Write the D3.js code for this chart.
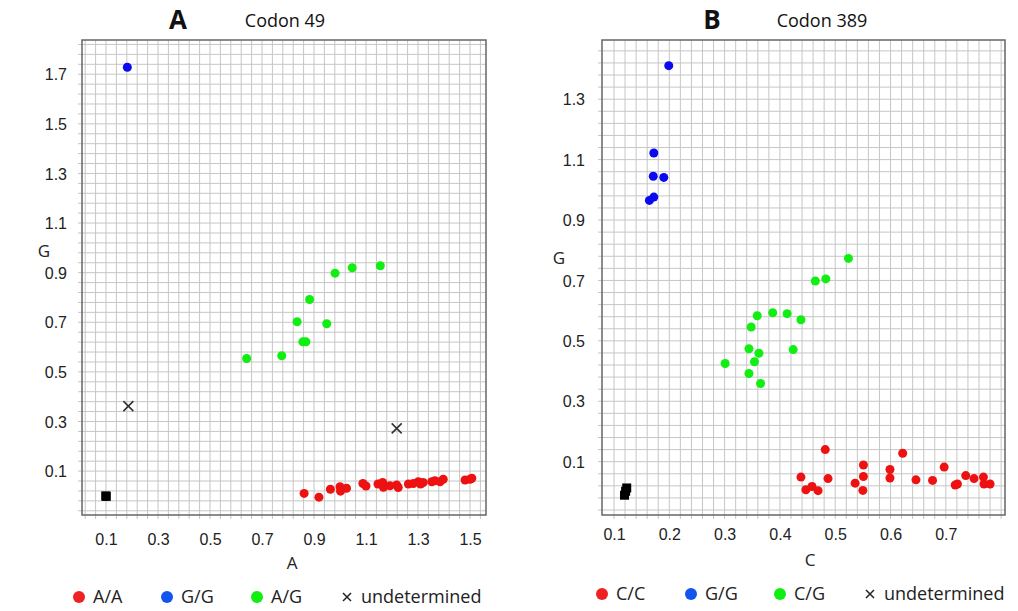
<!DOCTYPE html>
<html>
<head>
<meta charset="utf-8">
<script src="https://cdn.jsdelivr.net/npm/d3@7"></script>
<style>
  body { margin: 0; background: #fff; }
  svg { display: block; font-family: "Open Sans", "Noto Sans", sans-serif; }
  .tick text { fill: #222; }
</style>
</head>
<body>
<svg id="chart"></svg>
<script>
const width = 1018;
const height = 611;

// Codon 49 : x = A, y = G
const aAA = [
  [0.862, 0.010], [0.919, -0.005], [0.963, 0.027], [1.000, 0.037], [1.002, 0.019],
  [1.025, 0.031], [1.088, 0.050], [1.100, 0.040], [1.146, 0.048], [1.164, 0.054],
  [1.167, 0.035], [1.192, 0.041], [1.218, 0.044], [1.224, 0.034], [1.263, 0.048],
  [1.282, 0.050], [1.301, 0.057], [1.310, 0.048], [1.320, 0.054], [1.353, 0.057],
  [1.365, 0.061], [1.385, 0.057], [1.397, 0.067], [1.481, 0.064], [1.500, 0.067],
  [1.507, 0.071]
];
const aGG = [[0.182, 1.728]];
const aAG = [
  [0.641, 0.554], [0.776, 0.565], [0.857, 0.621], [0.869, 0.621], [0.835, 0.702],
  [0.949, 0.694], [0.883, 0.792], [0.981, 0.898], [1.047, 0.920], [1.155, 0.928]
];
const aUnd = [[0.186, 0.362], [1.218, 0.272]];
const aNtc = [[0.099, 0.000], [0.101, -0.002]];

// Codon 389 : x = C, y = G
const bCC = [
  [0.438, 0.049], [0.482, 0.140], [0.487, 0.044], [0.447, 0.007], [0.458, 0.018],
  [0.469, 0.004], [0.536, 0.029], [0.551, 0.089], [0.551, 0.051], [0.550, 0.005],
  [0.599, 0.074], [0.599, 0.046], [0.622, 0.128], [0.646, 0.040], [0.676, 0.038],
  [0.697, 0.082], [0.717, 0.023], [0.721, 0.026], [0.736, 0.054], [0.751, 0.044],
  [0.768, 0.049], [0.769, 0.026], [0.780, 0.026]
];
const bGG = [
  [0.199, 1.411], [0.172, 1.122], [0.171, 1.045], [0.190, 1.041], [0.172, 0.976],
  [0.164, 0.965]
];
const bCG = [
  [0.524, 0.773], [0.464, 0.698], [0.483, 0.705], [0.387, 0.593], [0.413, 0.590],
  [0.438, 0.570], [0.359, 0.583], [0.348, 0.546], [0.344, 0.474], [0.362, 0.459],
  [0.424, 0.471], [0.354, 0.431], [0.301, 0.425], [0.344, 0.392], [0.365, 0.359]
];
const bUnd = [];
const bNtc = [[0.123, 0.013], [0.119, -0.011], [0.121, 0.002]];

const aTicksX = [0.1, 0.3, 0.5, 0.7, 0.9, 1.1, 1.3, 1.5];
const aTicksY = [0.1, 0.3, 0.5, 0.7, 0.9, 1.1, 1.3, 1.5, 1.7];
const bTicksX = [0.1, 0.2, 0.3, 0.4, 0.5, 0.6, 0.7];
const bTicksY = [0.1, 0.3, 0.5, 0.7, 0.9, 1.1, 1.3];

const aLegend = ["A/A", "G/G", "A/G", "undetermined"];
const bLegend = ["C/C", "G/G", "C/G", "undetermined"];

const RED = "#ee1111", BLUE = "#0a0aee", GREEN = "#11ee11";
const LEG_COLORS = ["#ee2222", "#1155ee", "#11ee11"];

const svg = d3.select("#chart")
  .attr("width", width)
  .attr("height", height);

svg.append("rect").attr("width", width).attr("height", height).attr("fill", "#fff");

function drawPanel(p) {
  const g = svg.append("g");

  const x = d3.scaleLinear().domain(p.xDomain).range([p.left, p.right]);
  const y = d3.scaleLinear().domain(p.yDomain).range([p.bottom, p.top]);

  // minor grid, every fifth of a tick step
  const gx = d3.range(-20, 60).map(i => p.ticksX[0] + i * p.stepX / 5)
    .filter(v => x(v) > p.left + 1 && x(v) < p.right - 1);
  const gy = d3.range(-20, 60).map(i => p.ticksY[0] + i * p.stepY / 5)
    .filter(v => y(v) > p.top + 1 && y(v) < p.bottom - 1);

  g.append("g").selectAll("line").data(gx).join("line")
    .attr("x1", d => x(d)).attr("x2", d => x(d))
    .attr("y1", p.top).attr("y2", p.bottom + 4)
    .attr("stroke", "#c6c6c6").attr("stroke-width", 1);

  g.append("g").selectAll("line").data(gy).join("line")
    .attr("x1", p.left - 4).attr("x2", p.right)
    .attr("y1", d => y(d)).attr("y2", d => y(d))
    .attr("stroke", "#c6c6c6").attr("stroke-width", 1);

  g.append("rect")
    .attr("x", p.left).attr("y", p.top)
    .attr("width", p.right - p.left).attr("height", p.bottom - p.top)
    .attr("fill", "none").attr("stroke", "#666").attr("stroke-width", 1.5);

  const xAxis = g.append("g")
    .attr("transform", `translate(0,${p.bottom + p.xLabelGap})`)
    .call(d3.axisBottom(x).tickValues(p.ticksX).tickSize(0).tickFormat(d3.format(".1f")));
  xAxis.select(".domain").remove();
  xAxis.selectAll("text").attr("font-size", 16).attr("font-family", "inherit");

  const yAxis = g.append("g")
    .attr("transform", `translate(${p.left - p.yLabelGap},0)`)
    .call(d3.axisLeft(y).tickValues(p.ticksY).tickSize(0).tickFormat(d3.format(".1f")));
  yAxis.select(".domain").remove();
  yAxis.selectAll("text").attr("font-size", 16).attr("font-family", "inherit").attr("dy", "0.35em");

  g.append("text").attr("x", p.xTitle[0]).attr("y", p.xTitle[1])
    .attr("text-anchor", "middle").attr("font-size", 17).attr("fill", "#222").text(p.xName);
  g.append("text").attr("x", p.yTitle[0]).attr("y", p.yTitle[1])
    .attr("text-anchor", "middle").attr("font-size", 17).attr("fill", "#222").text("G");

  g.append("text").attr("x", p.letterX).attr("y", 29)
    .attr("text-anchor", "middle").attr("font-size", 26).attr("font-weight", "bold")
    .attr("fill", "#111").text(p.letter);
  g.append("text").attr("x", p.codonX).attr("y", 27)
    .attr("text-anchor", "middle").attr("font-size", 18).attr("fill", "#111").text(p.codon);

  const dots = (data, color) => g.append("g").selectAll("circle").data(data).join("circle")
    .attr("cx", d => x(d[0])).attr("cy", d => y(d[1])).attr("r", 4.5).attr("fill", color);

  dots(p.series[0], RED);
  dots(p.series[1], BLUE);
  dots(p.series[2], GREEN);

  g.append("g").selectAll("path").data(p.series[3]).join("path")
    .attr("transform", d => `translate(${x(d[0])},${y(d[1])})`)
    .attr("d", "M-5,-5L5,5M-5,5L5,-5")
    .attr("stroke", "#333").attr("stroke-width", 1.6);

  g.append("g").selectAll("rect").data(p.series[4]).join("rect")
    .attr("x", d => x(d[0]) - 4.5).attr("y", d => y(d[1]) - 4.5)
    .attr("width", 9).attr("height", 9).attr("fill", "#000");

  // legend
  const leg = g.append("g").attr("transform", `translate(0,${p.legendY})`);
  p.legend.forEach((label, i) => {
    const lx = p.legendX[i];
    if (i < 3) {
      leg.append("circle").attr("cx", lx).attr("cy", 0).attr("r", 6).attr("fill", LEG_COLORS[i]);
    } else {
      leg.append("path").attr("transform", `translate(${lx},0)`)
        .attr("d", "M-4,-4L4,4M-4,4L4,-4").attr("stroke", "#222").attr("stroke-width", 1.5);
    }
    leg.append("text").attr("x", lx + 14).attr("y", 0).attr("dy", "0.35em")
      .attr("font-size", 18).attr("fill", "#222").text(label);
  });
}

drawPanel({
  left: 82, right: 486, top: 40, bottom: 515,
  xDomain: [0.0077, 1.5615], yDomain: [-0.077, 1.838],
  ticksX: aTicksX, ticksY: aTicksY, stepX: 0.2, stepY: 0.2,
  xLabelGap: 16, yLabelGap: 12,
  xName: "A", xTitle: [292, 569], yTitle: [44, 257],
  letter: "A", letterX: 178, codon: "Codon 49", codonX: 285,
  series: [aAA, aGG, aAG, aUnd, aNtc],
  legend: aLegend, legendX: [79, 167, 257, 347], legendY: 597
});

drawPanel({
  left: 602, right: 1005, top: 40, bottom: 515,
  xDomain: [0.0783, 0.807], yDomain: [-0.0765, 1.496],
  ticksX: bTicksX, ticksY: bTicksY, stepX: 0.1, stepY: 0.2,
  xLabelGap: 11, yLabelGap: 14,
  xName: "C", xTitle: [810, 566], yTitle: [559, 264],
  letter: "B", letterX: 712, codon: "Codon 389", codonX: 822,
  series: [bCC, bGG, bCG, bUnd, bNtc],
  legend: bLegend, legendX: [602, 691, 780, 870], legendY: 594
});
</script>
</body>
</html>
